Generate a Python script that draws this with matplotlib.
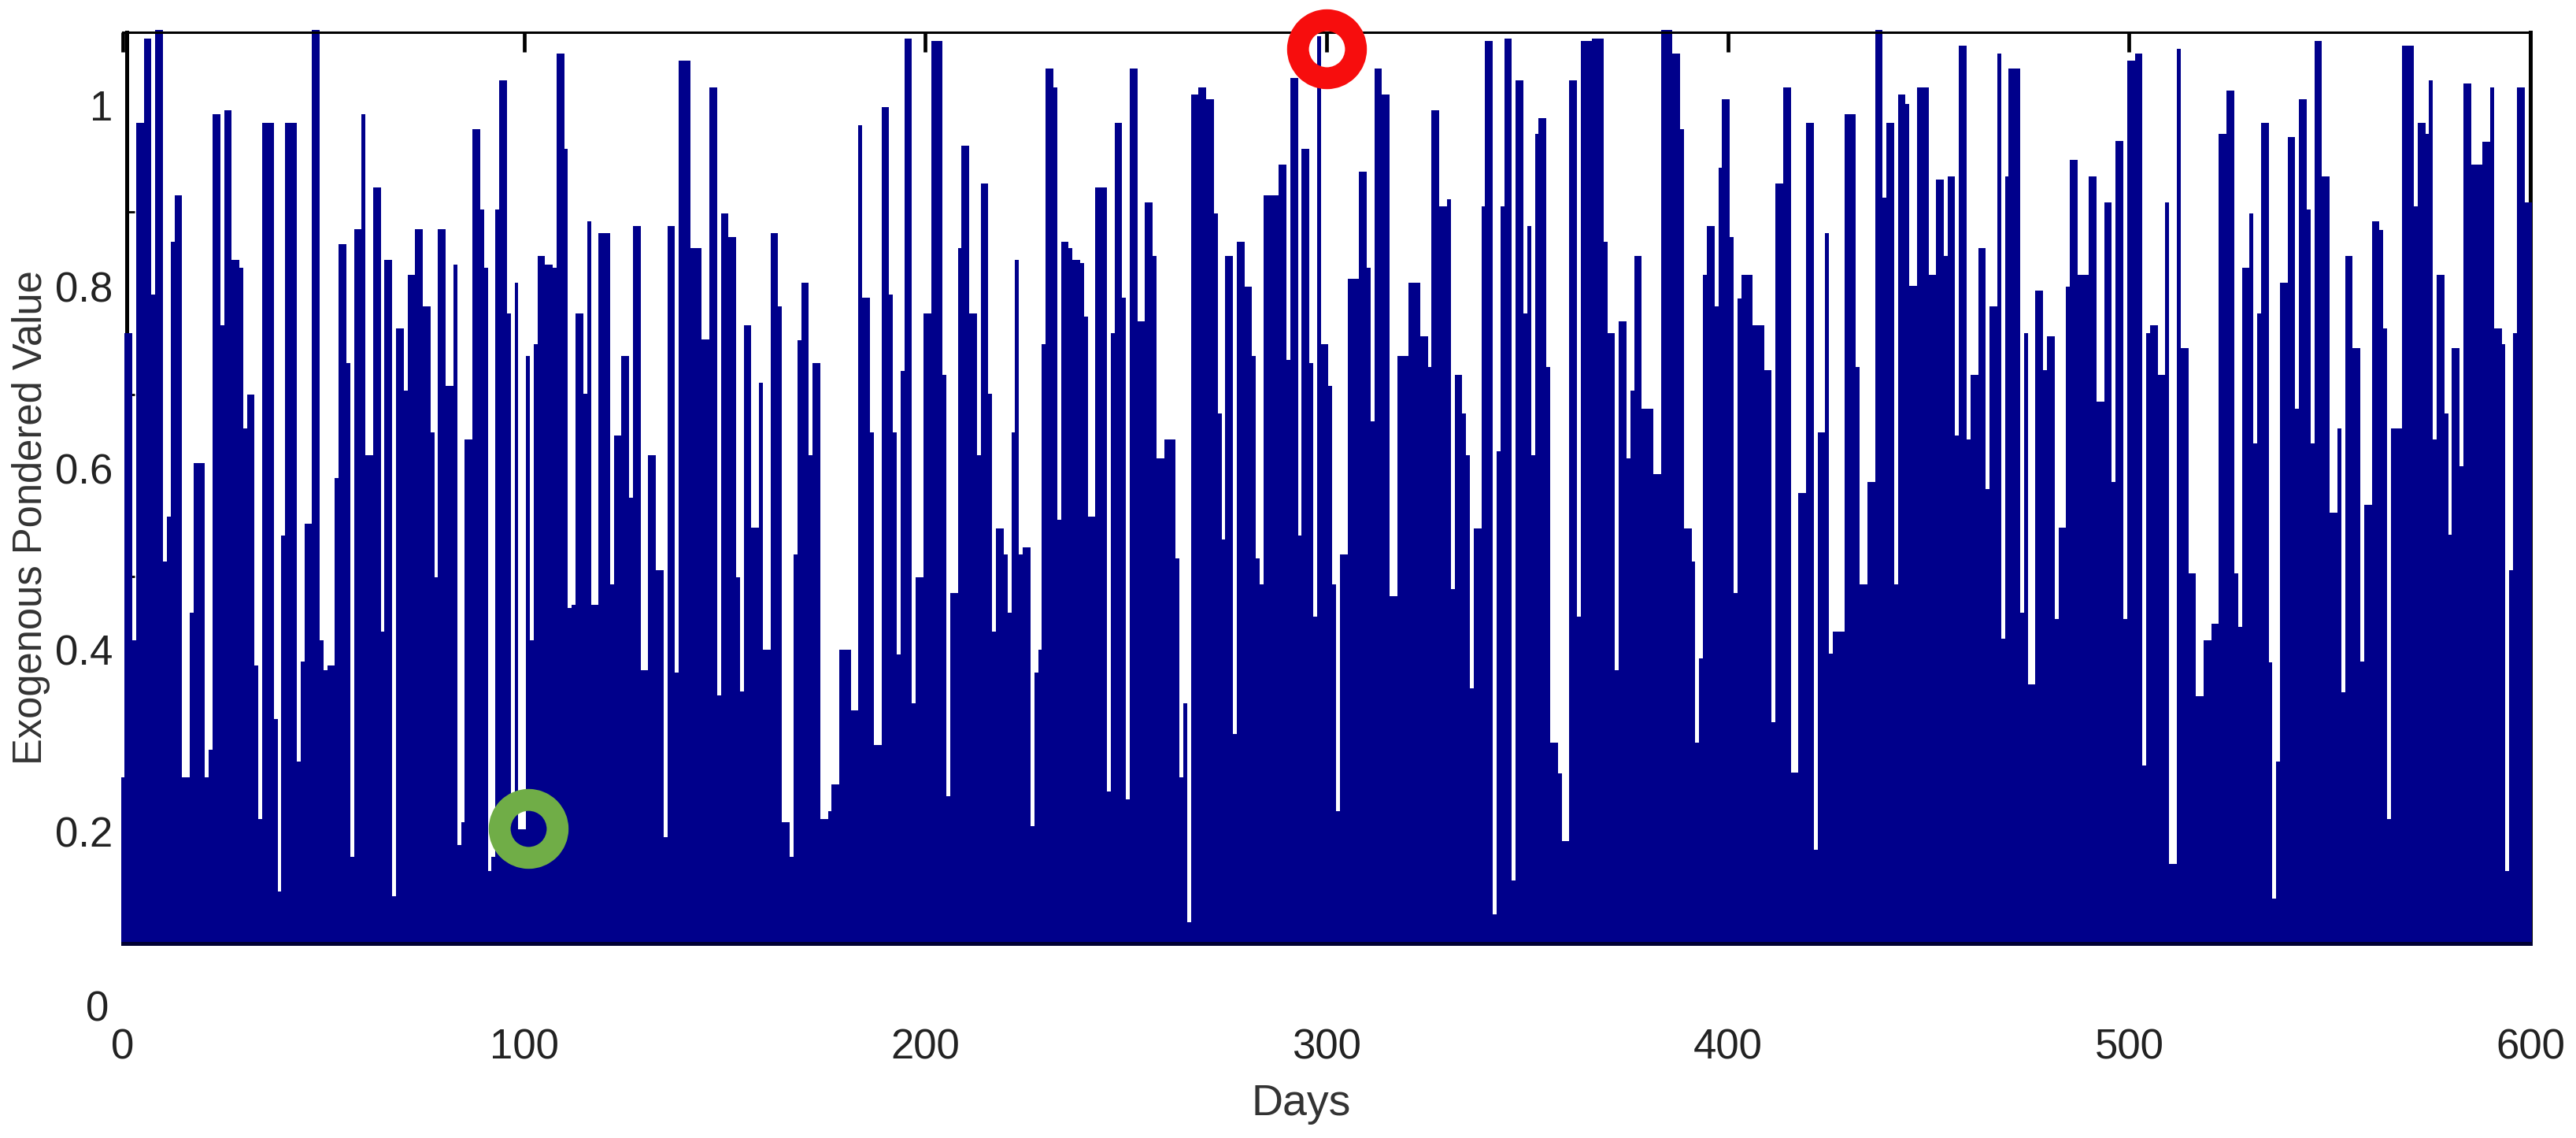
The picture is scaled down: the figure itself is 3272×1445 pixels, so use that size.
import numpy as np
import matplotlib
matplotlib.use('Agg')
import matplotlib.pyplot as plt
from matplotlib.transforms import ScaledTranslation

plt.rcParams['font.family'] = ['Liberation Sans', 'DejaVu Sans']

# bar heights, one list per stretch of the axis
# (bars that poke out of the top of the box are given as 1.083)
values_0 = [0.260, 0.749, 0.749, 0.411, 0.981, 0.981, 1.074, 1.074, 0.792, 1.083, 1.083, 0.497, 0.547, 0.850,
            0.901, 0.901, 0.260, 0.260, 0.441, 0.606, 0.606, 0.606, 0.260, 0.290, 0.990, 0.990, 0.758, 0.995,
            0.995, 0.830, 0.830, 0.821, 0.644, 0.681, 0.681, 0.383, 0.214, 0.981, 0.981, 0.981, 0.324, 0.134,
            0.526, 0.981, 0.981, 0.981, 0.277, 0.387, 0.539, 0.539, 1.083, 1.083, 0.411, 0.378, 0.383, 0.383,
            0.589, 0.847, 0.847, 0.716, 0.172, 0.864, 0.864, 0.990, 0.615, 0.615, 0.910, 0.910, 0.420, 0.830,
            0.830, 0.129, 0.754, 0.754, 0.686, 0.813, 0.813, 0.864, 0.864, 0.779, 0.779, 0.640, 0.480, 0.864,
            0.864, 0.691, 0.691, 0.825, 0.185, 0.210, 0.632, 0.632, 0.974, 0.974, 0.885, 0.821, 0.156, 0.172,
            0.885, 1.028, 1.028]
values_1 = [0.771, 0.216, 0.805, 0.202, 0.202, 0.724, 0.411, 0.737, 0.834, 0.834, 0.825, 0.825, 0.821, 1.057,
            1.057, 0.952, 0.446, 0.450, 0.771, 0.771, 0.682, 0.872, 0.450, 0.450, 0.859, 0.859, 0.859, 0.472,
            0.636, 0.636, 0.724, 0.724, 0.568, 0.867, 0.867, 0.378, 0.378, 0.615, 0.615, 0.488, 0.488, 0.194,
            0.867, 0.867, 0.375, 1.049, 1.049, 1.049, 0.843, 0.843, 0.843, 0.742, 0.742, 1.020, 1.020, 0.350,
            0.881, 0.881, 0.855, 0.855, 0.480, 0.354, 0.758, 0.758, 0.535, 0.535, 0.694, 0.400, 0.400, 0.859,
            0.859, 0.779, 0.210, 0.210, 0.172, 0.505, 0.741, 0.805, 0.805, 0.615, 0.716, 0.716, 0.214, 0.214,
            0.222, 0.252, 0.252, 0.400, 0.400, 0.400, 0.333, 0.333, 0.978, 0.788, 0.788, 0.640, 0.295, 0.295,
            0.998, 0.998, 0.792, 0.640, 0.395, 0.707, 1.074, 1.074]
values_2 = [0.341, 0.480, 0.480, 0.771, 0.771, 1.071, 1.071, 1.071, 0.703, 0.239, 0.463, 0.463, 0.843, 0.956,
            0.956, 0.771, 0.771, 0.615, 0.914, 0.914, 0.682, 0.420, 0.534, 0.534, 0.505, 0.441, 0.640, 0.830,
            0.505, 0.513, 0.513, 0.206, 0.375, 0.400, 0.737, 1.041, 1.041, 1.020, 0.543, 0.850, 0.850, 0.843,
            0.830, 0.830, 0.826, 0.767, 0.547, 0.547, 0.910, 0.910, 0.910, 0.244, 0.749, 0.981, 0.981, 0.788,
            0.235, 1.041, 1.041, 0.762, 0.762, 0.893, 0.893, 0.834, 0.611, 0.611, 0.632, 0.632, 0.632, 0.501,
            0.260, 0.341, 0.100, 1.012, 1.012, 1.020, 1.020, 1.007, 1.007, 0.881, 0.661, 0.522, 0.834, 0.834,
            0.307, 0.850, 0.850, 0.800, 0.800, 0.724, 0.501, 0.472, 0.901, 0.901, 0.901, 0.901, 0.935, 0.935,
            0.720, 1.030, 1.030, 0.526, 0.952, 0.952]
values_3 = [0.716, 0.437, 1.076, 0.737, 0.737, 0.691, 0.472, 0.222, 0.505, 0.505, 0.809, 0.809, 0.809, 0.927,
            0.927, 0.821, 0.652, 1.041, 1.041, 1.012, 1.012, 0.459, 0.459, 0.724, 0.724, 0.724, 0.805, 0.805,
            0.805, 0.746, 0.746, 0.712, 0.995, 0.995, 0.889, 0.889, 0.897, 0.467, 0.703, 0.703, 0.661, 0.615,
            0.358, 0.534, 0.534, 0.889, 1.071, 1.071, 0.109, 0.619, 0.889, 1.074, 1.074, 0.146, 1.028, 1.028,
            0.771, 0.867, 0.615, 0.969, 0.986, 0.986, 0.712, 0.298, 0.298, 0.264, 0.189, 0.189, 1.028, 1.028,
            0.437, 1.071, 1.071, 1.071, 1.074, 1.074, 1.074, 0.850, 0.749, 0.749, 0.378, 0.762, 0.762, 0.611,
            0.686, 0.834, 0.834, 0.666, 0.666, 0.666, 0.594, 0.594, 1.083, 1.083, 1.083, 1.057, 1.057, 0.974,
            0.534, 0.534, 0.497, 0.298, 0.391, 0.813, 0.867, 0.867]
values_4 = [0.779, 0.931, 1.007, 1.007, 0.855, 0.463, 0.787, 0.813, 0.813, 0.813, 0.758, 0.758, 0.758, 0.708,
            0.708, 0.320, 0.914, 0.914, 1.020, 1.020, 0.265, 0.265, 0.573, 0.573, 0.981, 0.981, 0.180, 0.640,
            0.640, 0.859, 0.396, 0.420, 0.420, 0.420, 0.990, 0.990, 0.990, 0.712, 0.472, 0.472, 0.585, 0.585,
            1.083, 1.083, 0.898, 0.981, 0.981, 0.472, 1.012, 1.012, 1.002, 0.801, 0.801, 1.020, 1.020, 1.020,
            0.813, 0.813, 0.918, 0.918, 0.834, 0.922, 0.922, 0.636, 1.066, 1.066, 0.632, 0.703, 0.703, 0.843,
            0.843, 0.577, 0.779, 0.779, 1.057, 0.412, 0.922, 1.041, 1.041, 1.041, 0.441, 0.749, 0.362, 0.362,
            0.796, 0.796, 0.708, 0.746, 0.746, 0.434, 0.535, 0.535, 0.800, 0.940, 0.940, 0.813, 0.813, 0.813,
            0.922, 0.922, 0.674, 0.674, 0.893, 0.893]
values_5 = [0.585, 0.961, 0.961, 0.434, 1.049, 1.049, 1.057, 1.057, 0.273, 0.749, 0.758, 0.758, 0.703, 0.703,
            0.893, 0.164, 0.164, 1.062, 0.733, 0.733, 0.484, 0.484, 0.349, 0.349, 0.411, 0.411, 0.429, 0.429,
            0.969, 0.969, 1.016, 1.016, 0.484, 0.425, 0.821, 0.821, 0.881, 0.628, 0.771, 0.981, 0.981, 0.386,
            0.126, 0.277, 0.805, 0.805, 0.965, 0.965, 0.666, 1.007, 1.007, 0.885, 0.628, 1.071, 1.071, 0.922,
            0.922, 0.551, 0.551, 0.644, 0.353, 0.834, 0.834, 0.733, 0.733, 0.387, 0.560, 0.560, 0.872, 0.872,
            0.863, 0.754, 0.214, 0.644, 0.644, 0.644, 1.066, 1.066, 1.066, 0.889, 0.981, 0.981, 0.969, 1.028,
            0.632, 0.813, 0.813, 0.661, 0.527, 0.733, 0.733, 0.602, 1.024, 1.024, 0.935, 0.935, 0.935, 0.960,
            0.960, 1.020, 0.754, 0.754, 0.737, 0.156, 0.488, 0.749, 1.020, 1.020, 0.893, 0.893]

x_ticks = [0, 100, 200, 300, 400, 500, 600]
y_ticks = [0.2, 0.4, 0.6, 0.8, 1]
y_tick_labels = ['0.2', '0.4', '0.6', '0.8', '1']
# the tick marks on the box sit off from the printed numbers
y_marks = [0.277, 0.481, 0.681, 0.883]

# the two circled points
best_day, best_value = 300, 1.062
worst_day, worst_value = 101, 0.203

values = np.array(values_0 + values_1 + values_2 + values_3 + values_4 + values_5)
days = np.linspace(0, 600, len(values))

W, H = 3273, 1445
fig = plt.figure(figsize=(W / 100, H / 100), dpi=100)
ax = fig.add_axes([156 / W, 1 - 1197.5 / H, (3214 - 156) / W, (1197.5 - 40.5) / H])

y_bottom, y_top = 0.077, 1.081

ax.set_axisbelow(True)
ax.bar(days, values - y_bottom, bottom=y_bottom, width=days[1] - days[0], color='#00008b',
       linewidth=0, antialiased=False, clip_on=False, zorder=1)

# red and green rings
ax.plot([best_day], [best_value], 'o', ms=53, mfc='none', mec='#f70d0d', mew=20, clip_on=False, zorder=5)
ax.plot([worst_day], [worst_value], 'o', ms=53, mfc='none', mec='#70ad47', mew=20, clip_on=False, zorder=5)

ax.set_xlim(0, 600)
ax.set_ylim(y_bottom, y_top)
ax.set_xticks(x_ticks)
ax.set_yticks(y_ticks)
ax.set_yticklabels(y_tick_labels)
ax.set_yticks(y_marks, minor=True)

ax.tick_params(axis='x', top=True, bottom=False, direction='in', length=18, width=3.4, pad=78, labelsize=38,
               labelcolor='#222222')
ax.tick_params(axis='y', which='major', length=0, pad=13, labelsize=38, labelcolor='#222222')
ax.tick_params(axis='y', which='minor', left=True, right=True, direction='in', length=7, width=2)

# printed y numbers sit a few pixels above their values
nudge = ScaledTranslation(0, 3.5 / 100, fig.dpi_scale_trans)
for label in ax.get_yticklabels():
    label.set_transform(label.get_transform() + nudge)

# "0" sits under the box, below where the axis ends
ax.text(-18 / 3058, 0, '0', transform=ax.get_yaxis_transform() + nudge, ha='right', va='center', fontsize=38,
        color='#222222', clip_on=False)

ax.spines['left'].set_position(('data', 1))
for side, lw in [('left', 3.6), ('right', 3.6), ('top', 2.2), ('bottom', 3.6)]:
    ax.spines[side].set_linewidth(lw)
ax.spines['left'].set_zorder(0.5)
ax.spines['right'].set_zorder(0.5)
ax.spines['bottom'].set_color('#000033')

fig.text(40 / W, 1 - 657 / H, 'Exogenous Pondered Value', rotation=90, ha='center', va='center', fontsize=36.5,
         color='#333333')
fig.text(1653 / W, 1 - 1402 / H, 'Days', ha='center', va='center', fontsize=40, color='#333333')

plt.savefig('out.png', dpi=100)
